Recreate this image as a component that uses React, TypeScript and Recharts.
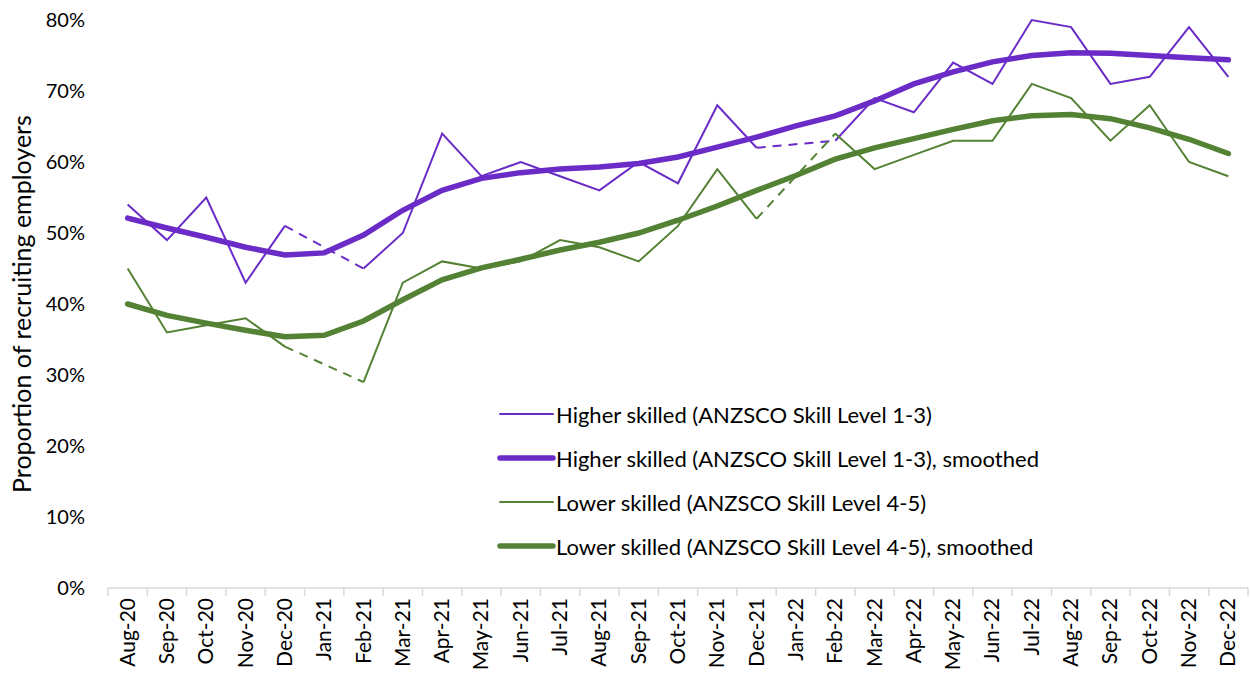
import React from "react";
import { LineChart, Line, XAxis, YAxis } from "recharts";

const months = [
  "Aug-20", "Sep-20", "Oct-20", "Nov-20", "Dec-20", "Jan-21", "Feb-21", "Mar-21",
  "Apr-21", "May-21", "Jun-21", "Jul-21", "Aug-21", "Sep-21", "Oct-21", "Nov-21",
  "Dec-21", "Jan-22", "Feb-22", "Mar-22", "Apr-22", "May-22", "Jun-22", "Jul-22",
  "Aug-22", "Sep-22", "Oct-22", "Nov-22", "Dec-22",
];

const higherSkilled = [
  54, 49, 55, 43, 51, null, 45, 50, 64, 58, 60, 58, 56, 60, 57, 68, 62, null,
  63, 69, 67, 74, 71, 80, 79, 71, 72, 79, 72,
];
const higherSmoothed = [
  52.1, 50.7, 49.4, 48.0, 46.9, 47.2, 49.7, 53.2, 56.0, 57.7, 58.5, 59.0, 59.3,
  59.8, 60.7, 62.1, 63.5, 65.1, 66.5, 68.6, 71.0, 72.7, 74.1, 75.0, 75.4, 75.3,
  75.0, 74.7, 74.4,
];
const lowerSkilled = [
  45, 36, 37, 38, 34, null, 29, 43, 46, 45, 46, 49, 48, 46, 51, 59, 52, null,
  64, 59, 61, 63, 63, 71, 69, 63, 68, 60, 58,
];
const lowerSmoothed = [
  40.0, 38.4, 37.3, 36.3, 35.4, 35.6, 37.6, 40.6, 43.4, 45.1, 46.3, 47.6, 48.7,
  50.0, 51.8, 53.8, 56.0, 58.1, 60.4, 62.0, 63.3, 64.6, 65.8, 66.5, 66.7, 66.1,
  64.8, 63.2, 61.2,
];
const yTicks = [0, 10, 20, 30, 40, 50, 60, 70, 80];

const PURPLE = "#6a2bc7";
const GREEN = "#548235";

// dashed bridge over a missing month: only the two neighbours of the gap carry values
const splitBridge = (arr: (number | null)[], gapIndex: number) =>
  arr.map((v, i) => (Math.abs(i - gapIndex) === 1 ? v : null));

const gapHigh = higherSkilled.map((v, i) => (v === null ? i : -1)).filter((i) => i >= 0);
const gapLow = lowerSkilled.map((v, i) => (v === null ? i : -1)).filter((i) => i >= 0);

const data = months.map((m, i) => ({
  month: m,
  higher: higherSkilled[i],
  higherS: higherSmoothed[i],
  lower: lowerSkilled[i],
  lowerS: lowerSmoothed[i],
  hGap1: splitBridge(higherSkilled, gapHigh[0])[i],
  hGap2: splitBridge(higherSkilled, gapHigh[1])[i],
  lGap1: splitBridge(lowerSkilled, gapLow[0])[i],
  lGap2: splitBridge(lowerSkilled, gapLow[1])[i],
}));

const legendItems = [
  { label: "Higher skilled (ANZSCO Skill Level 1-3)", color: PURPLE, width: 2 },
  { label: "Higher skilled (ANZSCO Skill Level 1-3), smoothed", color: PURPLE, width: 5.5 },
  { label: "Lower skilled (ANZSCO Skill Level 4-5)", color: GREEN, width: 2 },
  { label: "Lower skilled (ANZSCO Skill Level 4-5), smoothed", color: GREEN, width: 5.5 },
];

const W = 1250;
const H = 675;
const Y_AXIS_W = 108;
const RIGHT = 2;
const PLOT_TOP = 20;
const PLOT_BOTTOM = 588;
const STEP = (W - Y_AXIS_W - RIGHT) / months.length;

const MonthTick = (props: any) => {
  const { x, payload, index } = props;
  return (
    <g>
      <line x1={x - STEP / 2} x2={x - STEP / 2} y1={PLOT_BOTTOM} y2={PLOT_BOTTOM + 8} stroke="#d9d9d9" strokeWidth={1.5} />
      {index === months.length - 1 && (
        <line x1={x + STEP / 2} x2={x + STEP / 2} y1={PLOT_BOTTOM} y2={PLOT_BOTTOM + 8} stroke="#d9d9d9" strokeWidth={1.5} />
      )}
      <text
        transform={`translate(${x + 7},${PLOT_BOTTOM + 10}) rotate(-90)`}
        textAnchor="end"
        fontSize={21}
        fill="#000"
      >
        {payload.value}
      </text>
    </g>
  );
};

const AxisTitle = () => (
  <text
    transform={`translate(31,${(PLOT_TOP + PLOT_BOTTOM) / 2}) rotate(-90)`}
    textAnchor="middle"
    fontSize={25}
    fill="#000"
  >
    Proportion of recruiting employers
  </text>
);

export default function App() {
  return (
    <div style={{ position: "absolute", left: 0, top: 0, width: W, height: H, fontFamily: "Lato, 'Noto Sans', sans-serif", background: "#fff" }}>
      <LineChart width={W} height={H} data={data} margin={{ top: PLOT_TOP, right: RIGHT, left: 0, bottom: 0 }}>
        <XAxis
          dataKey="month"
          interval={0}
          padding={{ left: STEP / 2, right: STEP / 2 }}
          height={H - PLOT_BOTTOM}
          axisLine={{ stroke: "#d9d9d9", strokeWidth: 1.5 }}
          tickLine={false}
          tick={<MonthTick />}
        />
        <YAxis
          width={Y_AXIS_W}
          domain={[0, 80]}
          ticks={yTicks}
          tickFormatter={(v) => `${v}%`}
          axisLine={false}
          tickLine={false}
          tickMargin={17}
          tick={{ fill: "#000", fontSize: 20 }}
          label={<AxisTitle />}
        />
        <Line dataKey="higher" stroke={PURPLE} strokeWidth={2} dot={false} isAnimationActive={false} />
        <Line dataKey="hGap1" stroke={PURPLE} strokeWidth={2} strokeDasharray="9 7" dot={false} connectNulls isAnimationActive={false} />
        <Line dataKey="hGap2" stroke={PURPLE} strokeWidth={2} strokeDasharray="9 7" dot={false} connectNulls isAnimationActive={false} />
        <Line dataKey="higherS" stroke={PURPLE} strokeWidth={5.5} strokeLinecap="round" dot={false} isAnimationActive={false} />
        <Line dataKey="lower" stroke={GREEN} strokeWidth={2} dot={false} isAnimationActive={false} />
        <Line dataKey="lGap1" stroke={GREEN} strokeWidth={2} strokeDasharray="9 7" dot={false} connectNulls isAnimationActive={false} />
        <Line dataKey="lGap2" stroke={GREEN} strokeWidth={2} strokeDasharray="9 7" dot={false} connectNulls isAnimationActive={false} />
        <Line dataKey="lowerS" stroke={GREEN} strokeWidth={5.5} strokeLinecap="round" dot={false} isAnimationActive={false} />
      </LineChart>
      <div style={{ position: "absolute", left: 497, top: 392 }}>
        {legendItems.map((it) => (
          <div key={it.label} style={{ display: "flex", alignItems: "center", height: 44 }}>
            <svg width={59} height={20}>
              <line x1={3} x2={56} y1={10} y2={10} stroke={it.color} strokeWidth={it.width} strokeLinecap="round" />
            </svg>
            <span style={{ fontSize: 22, color: "#000", whiteSpace: "nowrap" }}>{it.label}</span>
          </div>
        ))}
      </div>
    </div>
  );
}
